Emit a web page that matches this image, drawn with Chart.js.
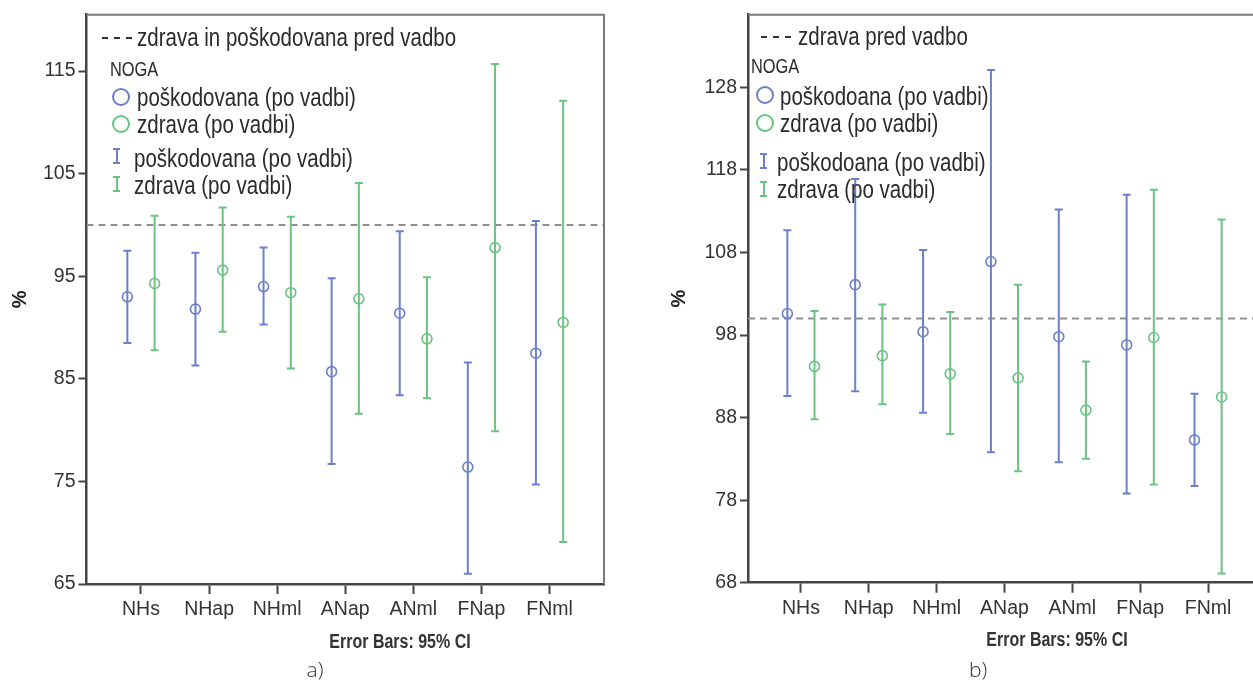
<!DOCTYPE html>
<html>
<head>
<meta charset="utf-8">
<script src="https://cdn.jsdelivr.net/npm/chart.js@4.4.1/dist/chart.umd.min.js"></script>
<style>
  html, body { margin: 0; padding: 0; width: 1253px; height: 682px; overflow: hidden; background: #fff; }
  .box { position: absolute; top: 0; }
  .t { position: absolute; white-space: nowrap; line-height: 1; transform-origin: left center;
       transform: translateY(-50%) scaleX(0.82);
       font-family: "Liberation Sans", Arial, sans-serif; color: #2b2b2b; }
  .big { font-size: 25px; }
  .noga { font-size: 20px; }
  .cap { font-size: 19.5px; font-weight: bold; color: #333; transform-origin: center center;
         transform: translate(-50%, -50%) scaleX(0.82); }
  .sub { font-family: "Open Sans", sans-serif; font-weight: 300; font-size: 21px; color: #333;
         transform-origin: center center; transform: translate(-50%, -50%); }
  .dash { position: absolute; height: 2px; width: 31px;
          background: repeating-linear-gradient(90deg, #333 0 6px, transparent 6px 12px); }
  .circ { position: absolute; width: 14px; height: 14px; border: 2px solid; border-radius: 50%; }
  .ibar { position: absolute; width: 7px; height: 12px; border-top: 2px solid; border-bottom: 2px solid; }
  .ibar::after { content: ''; position: absolute; left: 2.5px; top: 0; width: 2px; height: 12px; background: currentColor; }
  .blue { border-color: #6b7fcb; color: #6b7fcb; }
  .green { border-color: #68c481; color: #68c481; }
</style>
</head>
<body>
<div class="box" style="left:0;width:640px;height:682px;"><canvas id="chartA" width="640" height="682"></canvas></div>
<div class="box" style="left:660px;width:620px;height:682px;"><canvas id="chartB" width="620" height="682"></canvas></div>

<!-- legend a) -->
<div class="dash" style="left:102px;top:37px;"></div>
<div class="t big" style="left:137px;top:37px;">zdrava in poškodovana pred vadbo</div>
<div class="t noga" style="left:110px;top:69px;">NOGA</div>
<div class="circ blue" style="left:112px;top:88px;"></div>
<div class="t big" style="left:137px;top:97px;">poškodovana (po vadbi)</div>
<div class="circ green" style="left:112px;top:115px;"></div>
<div class="t big" style="left:137px;top:124px;">zdrava (po vadbi)</div>
<div class="ibar blue" style="left:113px;top:148px;"></div>
<div class="t big" style="left:134px;top:158px;">poškodovana (po vadbi)</div>
<div class="ibar green" style="left:113px;top:176px;"></div>
<div class="t big" style="left:134px;top:185px;">zdrava (po vadbi)</div>
<div class="t cap" style="left:400px;top:642px;">Error Bars: 95% CI</div>
<div class="t sub" style="left:315px;top:669px;">a)</div>

<!-- legend b) -->
<div class="dash" style="left:761px;top:36px;"></div>
<div class="t big" style="left:798px;top:36px;">zdrava pred vadbo</div>
<div class="t noga" style="left:751px;top:66px;">NOGA</div>
<div class="circ blue" style="left:756px;top:86px;"></div>
<div class="t big" style="left:780px;top:96px;">poškodoana (po vadbi)</div>
<div class="circ green" style="left:756px;top:114px;"></div>
<div class="t big" style="left:780px;top:123px;">zdrava (po vadbi)</div>
<div class="ibar blue" style="left:760px;top:153px;"></div>
<div class="t big" style="left:777px;top:162px;">poškodoana (po vadbi)</div>
<div class="ibar green" style="left:760px;top:181px;"></div>
<div class="t big" style="left:777px;top:189px;">zdrava (po vadbi)</div>
<div class="t cap" style="left:1057px;top:640px;">Error Bars: 95% CI</div>
<div class="t sub" style="left:978px;top:669px;">b)</div>

<script>
// ===== Data =====
const cats = ['NHs', 'NHap', 'NHml', 'ANap', 'ANml', 'FNap', 'FNml'];

// a) zdrava in poškodovana pred vadbo = 100
const aTicks     = [65, 75, 85, 95, 105, 115];
const aBaseline  = 100;
const aInjMean   = [93.0, 91.8, 94.0, 85.7, 91.4, 76.4, 87.5];
const aInjLow    = [88.5, 86.3, 90.3, 76.7, 83.4, 66.0, 74.7];
const aInjHigh   = [97.5, 97.3, 97.8, 94.8, 99.4, 86.6, 100.4];
const aHealMean  = [94.3, 95.6, 93.4, 92.8, 88.9, 97.8, 90.5];
const aHealLow   = [87.8, 89.6, 86.0, 81.6, 83.1, 79.9, 69.1];
const aHealHigh  = [100.9, 101.7, 100.8, 104.1, 94.9, 115.7, 112.1];

// b) zdrava pred vadbo = 100
const bTicks     = [68, 78, 88, 98, 108, 118, 128];
const bBaseline  = 100;
const bInjMean   = [100.6, 104.1, 98.4, 106.9, 97.8, 96.8, 85.3];
const bInjLow    = [90.6, 91.2, 88.6, 83.8, 82.6, 78.8, 79.7];
const bInjHigh   = [110.7, 116.9, 108.3, 130.1, 113.2, 115.0, 90.9];
const bHealMean  = [94.2, 95.5, 93.3, 92.8, 88.9, 97.7, 90.5];
const bHealLow   = [87.8, 89.6, 86.0, 81.5, 83.0, 79.9, 69.1];
const bHealHigh  = [100.9, 101.7, 100.8, 104.1, 94.8, 115.6, 112.0];

// ===== Style =====
const BLUE   = '#6b7fcb';
const GREEN  = '#68c481';
const AXIS   = '#444';
const OFF    = 0.2;
const FONT   = '"Liberation Sans", Arial, sans-serif';

function whiskers(low, high, dx) {
  const pts = [];
  cats.forEach((c, i) => {
    pts.push({x: i + dx, y: low[i]}, {x: i + dx, y: high[i]}, {x: i + dx, y: null});
  });
  return pts;
}

function means(mean, dx) {
  return mean.map((v, i) => ({x: i + dx, y: v}));
}

// top + right border of the plot frame
const framePlugin = {
  id: 'frame',
  afterDraw(chart) {
    const {ctx, chartArea: a} = chart;
    ctx.save();
    ctx.strokeStyle = '#7a7a7a';
    ctx.lineWidth = 2;
    ctx.beginPath();
    ctx.moveTo(a.left, a.top);
    ctx.lineTo(a.right, a.top);
    ctx.lineTo(a.right, a.bottom);
    ctx.stroke();
    ctx.restore();
  }
};

function barSet(low, high, dx, color) {
  return {
    data: whiskers(low, high, dx), showLine: true, spanGaps: false,
    borderColor: color, borderWidth: 2,
    pointStyle: 'line', pointRadius: 4, pointBorderColor: color, pointBorderWidth: 2
  };
}

function meanSet(mean, dx, color) {
  return {
    data: means(mean, dx), showLine: false,
    pointStyle: 'circle', pointRadius: 5, pointBorderColor: color,
    pointBackgroundColor: 'rgba(0,0,0,0)', pointBorderWidth: 1.6
  };
}

function buildChart(id, c) {
  return new Chart(document.getElementById(id), {
    type: 'scatter',
    data: {
      datasets: [
        meanSet(c.injMean, -OFF, BLUE),
        meanSet(c.healMean, OFF, GREEN),
        barSet(c.injLow, c.injHigh, -OFF, BLUE),
        barSet(c.healLow, c.healHigh, OFF, GREEN),
        { data: [{x: c.xMin, y: c.base}, {x: c.xMax, y: c.base}], showLine: true,
          borderColor: '#8f8f8f', borderWidth: 2, borderDash: [7, 5], pointRadius: 0 }
      ]
    },
    options: {
      responsive: false,
      animation: false,
      layout: { padding: { top: 14, right: c.padR, bottom: 0, left: 0 } },
      plugins: { legend: { display: false }, tooltip: { enabled: false } },
      scales: {
        x: {
          type: 'linear', min: c.xMin, max: c.xMax,
          afterBuildTicks: s => { s.ticks = cats.map((n, i) => ({value: i})); },
          afterFit: s => { s.height = c.xH; },
          ticks: { callback: v => cats[v], color: '#333', padding: 4, maxRotation: 0, autoSkip: false,
                   font: { family: FONT, size: 19.5 } },
          grid: { drawOnChartArea: false, drawTicks: true, tickLength: 10, tickColor: AXIS, tickWidth: 2 },
          border: { color: AXIS, width: 2.5 }
        },
        y: {
          min: c.yMin, max: c.yMax,
          afterBuildTicks: s => { s.ticks = c.ticks.map(v => ({value: v})); },
          afterFit: s => { s.width = c.yW; },
          ticks: { color: '#333', padding: 3, font: { family: FONT, size: 19.5 } },
          grid: { drawOnChartArea: false, drawTicks: true, tickLength: 8, tickColor: AXIS, tickWidth: 2 },
          border: { color: AXIS, width: 2.5 },
          title: { display: true, text: '%', color: '#222', padding: { top: c.tPad, bottom: 0 },
                   font: { family: FONT, size: 20, weight: 'bold' } }
        }
      }
    },
    plugins: [framePlugin]
  });
}

buildChart('chartA', {
  injMean: aInjMean, injLow: aInjLow, injHigh: aInjHigh,
  healMean: aHealMean, healLow: aHealLow, healHigh: aHealHigh,
  base: aBaseline, ticks: aTicks, yMin: 65, yMax: 120.5,
  xMin: -0.8, xMax: 6.8, yW: 86.5, xH: 98, padR: 36, tPad: 8.4
});

buildChart('chartB', {
  injMean: bInjMean, injLow: bInjLow, injHigh: bInjHigh,
  healMean: bHealMean, healLow: bHealLow, healHigh: bHealHigh,
  base: bBaseline, ticks: bTicks, yMin: 68, yMax: 136.8,
  xMin: -0.78, xMax: 6.78, yW: 88, xH: 99.3, padR: 19, tPad: 7
});
</script>
</body>
</html>
